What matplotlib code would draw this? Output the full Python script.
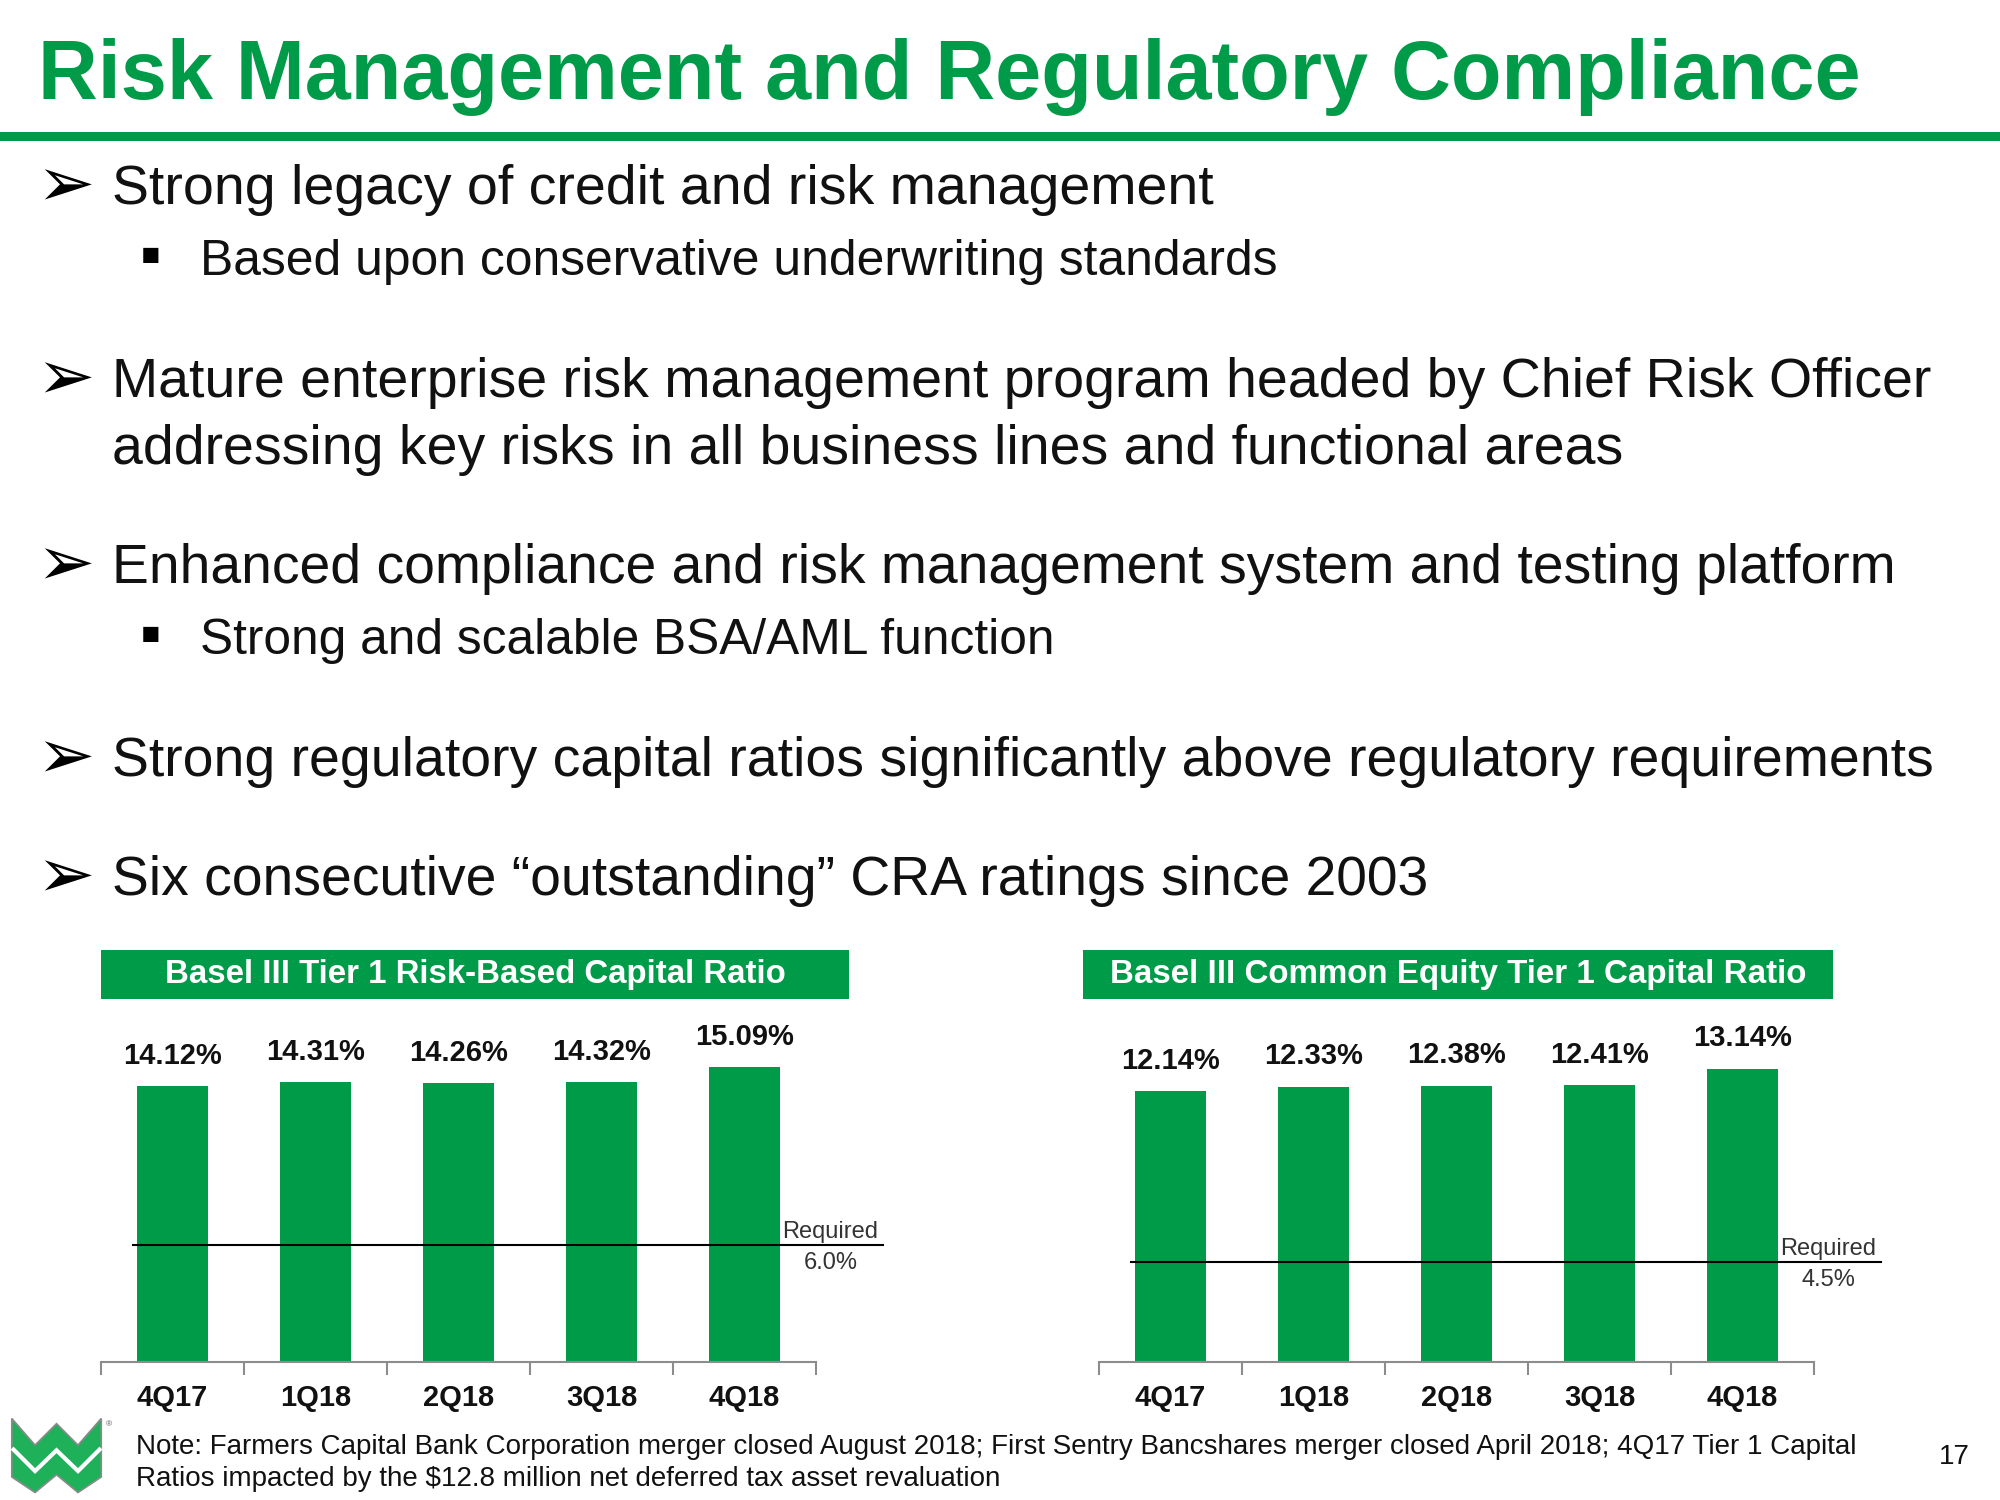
import matplotlib
matplotlib.use('Agg')
import matplotlib.pyplot as plt
import matplotlib.transforms as mtransforms
from matplotlib.patches import Rectangle, Polygon
import numpy as np

W, H = 2000, 1500
GREEN = '#009B48'
LOGO_GREEN = '#1FB05A'
TEXT = '#111111'
FONT = ['Liberation Sans Narrow', 'Liberation Sans', 'DejaVu Sans']

# slide text
title = 'Risk Management and Regulatory Compliance'
bullet1 = 'Strong legacy of credit and risk management'
sub1 = 'Based upon conservative underwriting standards'
bullet2 = ['Mature enterprise risk management program headed by Chief Risk Officer',
           'addressing key risks in all business lines and functional areas']
bullet3 = 'Enhanced compliance and risk management system and testing platform'
sub3 = 'Strong and scalable BSA/AML function'
bullet4 = 'Strong regulatory capital ratios significantly above regulatory requirements'
bullet5 = 'Six consecutive \u201coutstanding\u201d CRA ratings since 2003'
note_lines = ['Note: Farmers Capital Bank Corporation merger closed August 2018; '
              'First Sentry Bancshares merger closed April 2018; 4Q17 Tier 1 Capital',
              'Ratios impacted by the $12.8 million net deferred tax asset revaluation']
page_no = '17'

# chart data
quarters = ['4Q17', '1Q18', '2Q18', '3Q18', '4Q18']
tier1_title = 'Basel III Tier 1 Risk-Based Capital Ratio'
tier1 = [14.12, 14.31, 14.26, 14.32, 15.09]
tier1_req = 6.0
cet1_title = 'Basel III Common Equity Tier 1 Capital Ratio'
cet1 = [12.14, 12.33, 12.38, 12.41, 13.14]
cet1_req = 4.5

plt.rcParams['font.family'] = FONT
fig = plt.figure(figsize=(20, 15), dpi=100)
renderer = fig.canvas.get_renderer()


def put(x, y, s, width=None, **kw):
    # x, y in pixels from the top-left corner; optionally fit text to a pixel width
    kw.setdefault('va', 'baseline')
    kw.setdefault('color', TEXT)
    t = fig.text(x / W, 1 - y / H, s, **kw)
    if width:
        w = t.get_window_extent(renderer).width
        t.set_fontsize(t.get_fontsize() * width / w)
    return t


# title and rule
put(38, 99, title, width=1824, fontsize=54, fontweight='bold', color=GREEN)
fig.add_artist(Rectangle((0, 1 - 141 / H), 1, 9 / H, transform=fig.transFigure,
                         color=GREEN, lw=0))

# bullets
arrow_x, text_x = 36, 112
sq_x, sub_x = 140, 200
for y, s, w in [(204, bullet1, 1100), (397, bullet2[0], 1817), (583, bullet3, 1781),
                (776, bullet4, 1819), (895, bullet5, 1314)]:
    put(arrow_x, y + 2, '\u27a2', fontsize=50, color='black')
    put(text_x, y, s, width=w, fontsize=40)
put(text_x, 464, bullet2[1], width=1508, fontsize=40)
for y, s, w in [(275, sub1, 1076), (654, sub3, 853)]:
    put(sq_x, y - 1, '\u25aa', fontsize=44, color='black')
    put(sub_x, y, s, width=w, fontsize=34)


def capital_chart(left, box, header, header_w, values, req, ymax):
    ax = fig.add_axes([left / W, 1 - 1362 / H, 715 / W, 360 / H])
    x = np.arange(len(quarters))
    bars = ax.bar(x, values, width=0.5, color=GREEN)
    ax.bar_label(bars, labels=[f'{v:.2f}%' for v in values], padding=12,
                 fontsize=21, fontweight='bold', color=TEXT)
    ax.set_xlim(-0.5, len(quarters) - 0.5)
    ax.set_ylim(0, ymax)
    ax.axhline(req, xmin=0.045, xmax=1.094, color='black', lw=1.5, clip_on=False)
    tr = mtransforms.blended_transform_factory(ax.transAxes, ax.transData)
    ax.annotate('Required', (1.02, req), xycoords=tr, xytext=(0, 1),
                textcoords='offset points', ha='center', va='bottom',
                fontsize=17, color='#333333')
    ax.annotate(f'{req:.1f}%', (1.02, req), xycoords=tr, xytext=(0, -5),
                textcoords='offset points', ha='center', va='top',
                fontsize=17, color='#333333')
    ax.set_xticks(x)
    ax.set_xticklabels(quarters, fontsize=21, fontweight='bold', color=TEXT)
    ax.set_xticks(np.arange(-0.5, len(quarters)), minor=True)
    ax.tick_params(axis='x', which='major', length=0, pad=16)
    ax.tick_params(axis='x', which='minor', length=9, width=1.5, color='#8c8c8c')
    ax.set_yticks([])
    for side in ['top', 'right', 'left']:
        ax.spines[side].set_visible(False)
    ax.spines['bottom'].set_color('#8c8c8c')
    ax.spines['bottom'].set_linewidth(1.5)
    # green header box
    x0, x1 = box
    fig.add_artist(Rectangle((x0 / W, 1 - 999 / H), (x1 - x0) / W, 49 / H,
                             transform=fig.transFigure, color=GREEN, lw=0))
    put((x0 + x1) / 2, 975, header, width=header_w, fontsize=24,
        fontweight='bold', color='white', ha='center', va='center')


capital_chart(101, (101, 849), tier1_title, 622, tier1, tier1_req, 18.43)
capital_chart(1099, (1083, 1833), cet1_title, 699, cet1, cet1_req, 16.14)

# footnote and page number
put(136, 1454, note_lines[0], width=1720, fontsize=22)
put(136, 1486, note_lines[1], width=862, fontsize=22)
put(1954, 1464, page_no, fontsize=20, ha='center')

# company logo
lax = fig.add_axes([10 / W, 1 - 1494 / H, 102 / W, 77 / H])
lax.set_xlim(-0.02, 1.12)
lax.set_ylim(-0.02, 1.02)
lax.axis('off')
outline = [(0, 1), (0.26, 0.64), (0.5, 0.93), (0.74, 0.64), (1, 1),
           (1, 0.21), (0.74, 0), (0.5, 0.24), (0.26, 0), (0, 0.21)]
lax.add_patch(Polygon(outline, closed=True, facecolor=LOGO_GREEN,
                      edgecolor='#8a8a8a', lw=1.2))
lax.plot([0.02, 0.26, 0.5, 0.74, 0.98], [0.58, 0.29, 0.57, 0.29, 0.58],
         color='white', lw=3, solid_joinstyle='miter')
lax.text(1.05, 0.92, '\u00ae', fontsize=6, color='#555555', ha='left', va='center')

fig.savefig('out.png', dpi=100, facecolor='white')
